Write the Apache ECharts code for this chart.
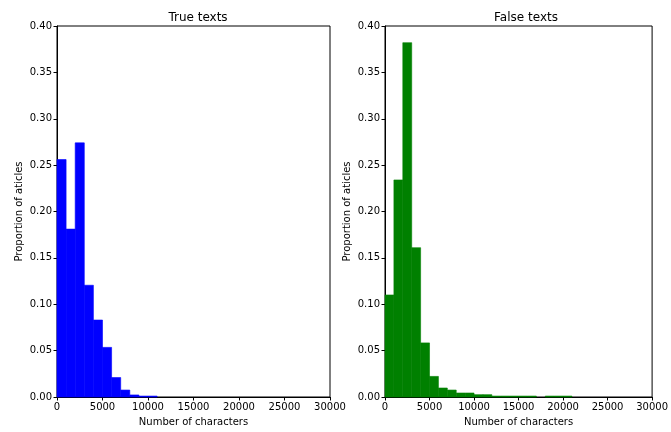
<!DOCTYPE html>
<html>
<head>
<meta charset="utf-8">
<script src="https://cdn.jsdelivr.net/npm/echarts@6/dist/echarts.min.js"></script>
<style>
  html, body { margin: 0; padding: 0; background: #fff; }
  #chart { width: 671px; height: 432px; }
</style>
</head>
<body>
<div id="chart"></div>
<script>
// bin edges are 1000 characters wide, starting at 0
const binWidth = 1000;
const trueBins = [0.256, 0.181, 0.274, 0.1205, 0.083, 0.0535, 0.021, 0.0075, 0.0022, 0.001, 0.001];
const falseBins = [0.110, 0.234, 0.382, 0.161, 0.0583, 0.0222, 0.0097, 0.0075, 0.0043, 0.0043,
  0.0025, 0.0025, 0.001, 0.001, 0.001, 0.001, 0.001, 0, 0.001, 0.001, 0.001];
const xTicks = [0, 5000, 10000, 15000, 20000, 25000, 30000];
const yTicks = [0, 0.05, 0.1, 0.15, 0.2, 0.25, 0.3, 0.35, 0.4];

const toRanges = (values) =>
  values.map((v, i) => [i * binWidth, (i + 1) * binWidth, v]).filter((d) => d[2] > 0);

const font = "DejaVu Sans";

function histSeries(values, color, index) {
  return {
    type: "custom",
    xAxisIndex: index,
    yAxisIndex: index,
    data: toRanges(values),
    renderItem: (params, api) => {
      const p0 = api.coord([api.value(0), api.value(2)]);
      const p1 = api.coord([api.value(1), 0]);
      return {
        type: "rect",
        shape: { x: p0[0], y: p0[1], width: p1[0] - p0[0], height: p1[1] - p0[1] },
        style: { fill: color, stroke: color, lineWidth: 0.6 },
      };
    },
  };
}

function xAxis(index) {
  return {
    type: "value",
    gridIndex: index,
    min: xTicks[0],
    max: xTicks[xTicks.length - 1],
    interval: 5000,
    name: "Number of characters",
    nameLocation: "middle",
    nameGap: 20,
    nameTextStyle: { color: "#000", fontSize: 10, fontFamily: font },
    axisLine: { lineStyle: { color: "#000", width: 1 } },
    axisTick: { length: 3.5, lineStyle: { color: "#000" } },
    axisLabel: { color: "#000", fontSize: 10, fontFamily: font, margin: 5,
      formatter: (v) => String(v) },
    splitLine: { show: false },
  };
}

function yAxis(index) {
  return {
    type: "value",
    gridIndex: index,
    min: yTicks[0],
    max: yTicks[yTicks.length - 1],
    interval: 0.05,
    name: "Proportion of aticles",
    nameLocation: "middle",
    nameGap: 33,
    nameTextStyle: { color: "#000", fontSize: 10, fontFamily: font },
    axisLine: { show: true, lineStyle: { color: "#000", width: 1 } },
    axisTick: { show: true, length: 3.5, lineStyle: { color: "#000" } },
    axisLabel: { color: "#000", fontSize: 10, fontFamily: font, margin: 5,
      formatter: (v) => v.toFixed(2) },
    splitLine: { show: false },
  };
}

const chart = echarts.init(document.getElementById("chart"), null, { renderer: "canvas" });
chart.setOption({
  animation: false,
  backgroundColor: "#fff",
  title: [
    { text: "True texts", left: 193, top: 7, textAlign: "center",
      textStyle: { fontSize: 12, fontWeight: "normal", color: "#000", fontFamily: font } },
    { text: "False texts", left: 521, top: 7, textAlign: "center",
      textStyle: { fontSize: 12, fontWeight: "normal", color: "#000", fontFamily: font } },
  ],
  grid: [
    { left: 57, right: 341, top: 26, bottom: 32, show: true, borderColor: "#000", borderWidth: 1 },
    { left: 385, right: 13, top: 26, bottom: 32, show: true, borderColor: "#000", borderWidth: 1 },
  ],
  xAxis: [xAxis(0), xAxis(1)],
  yAxis: [yAxis(0), yAxis(1)],
  series: [histSeries(trueBins, "#0000ff", 0), histSeries(falseBins, "#008000", 1)],
});
</script>
</body>
</html>
